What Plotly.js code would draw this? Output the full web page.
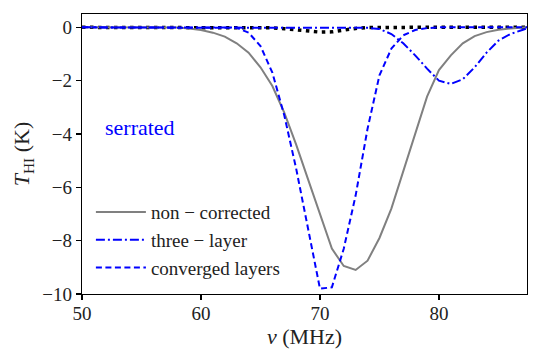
<!DOCTYPE html>
<html>
<head>
<meta charset="utf-8">
<script src="https://cdn.plot.ly/plotly-3.0.1.min.js"></script>
<style>
  html, body { margin: 0; padding: 0; background: #fff; }
  #chart { width: 540px; height: 360px; }
</style>
</head>
<body>
<div id="chart"></div>
<script>
// frequency grid (MHz)
const nu = [50, 51, 52, 53, 54, 55, 56, 57, 58, 59,
            60, 61, 62, 63, 64, 65, 66, 67, 68, 69,
            70, 71, 72, 73, 74, 75, 76, 77, 78, 79,
            80, 81, 82, 83, 84, 85, 86, 87, 87.4];

// brightness temperature (K)
const nonCorrected = [0, 0, 0, 0, 0, 0, 0, 0, -0.01, -0.04,
                      -0.1, -0.2, -0.35, -0.6, -0.95, -1.5, -2.2, -3.2, -4.4, -5.7,
                      -7.0, -8.3, -8.95, -9.1, -8.75, -7.9, -6.8, -5.4, -4.0, -2.6,
                      -1.6, -1.05, -0.6, -0.33, -0.18, -0.09, -0.04, -0.01, 0];

const threeLayer = [0, 0, 0, 0, 0, 0, 0, 0, 0, 0,
                    0, 0, 0, 0, 0, 0, 0, 0, 0, 0,
                    0, 0, 0, -0.01, -0.02, -0.06, -0.25, -0.6, -1.05, -1.55,
                    -2.0, -2.12, -1.95, -1.5, -0.95, -0.5, -0.25, -0.1, -0.04];

const convergedLayers = [0, 0, 0, 0, 0, 0, 0, 0, 0, 0,
                         0, 0, 0, -0.02, -0.2, -0.7, -1.7, -3.3, -5.3, -7.5,
                         -9.8, -9.75, -8.3, -6.3, -3.8, -1.8, -0.8, -0.3, -0.1, -0.03,
                         0, 0, 0, 0, 0, 0, 0, 0, 0];

const residual = [0, 0, 0, 0, 0, 0, 0, 0, 0, 0,
                  0, 0, 0, 0, 0, 0, -0.02, -0.05, -0.09, -0.15,
                  -0.18, -0.17, -0.1, -0.04, -0.01, 0, 0, 0, 0, 0,
                  0, 0, 0, 0, 0, 0, 0, 0, 0];

const serif = "'Liberation Serif', 'Times New Roman', serif";

const traces = [
  {
    x: nu, y: residual, mode: 'lines', showlegend: false,
    line: { color: 'black', width: 3.5, dash: '3.5px,4.5px' },
  },
  {
    x: nu, y: nonCorrected, mode: 'lines', name: 'non \u2212 corrected',
    line: { color: 'gray', width: 2 },
  },
  {
    x: nu, y: threeLayer, mode: 'lines', name: 'three \u2212 layer',
    line: { color: '#0000ff', width: 2, dash: '9px,3px,2px,3px' },
  },
  {
    x: nu, y: convergedLayers, mode: 'lines', name: 'converged layers',
    line: { color: '#0000ff', width: 2, dash: '6px,3.5px' },
  },
];

const axisCommon = {
  showgrid: false,
  zeroline: false,
  showline: true,
  mirror: true,
  linecolor: 'black',
  linewidth: 1.2,
  ticks: 'outside',
  ticklen: 5,
  tickwidth: 1.2,
  tickcolor: 'black',
  tickfont: { family: serif, size: 19, color: '#222' },
};

const layout = {
  width: 540,
  height: 360,
  margin: { t: 14, r: 13, b: 66, l: 82 },
  paper_bgcolor: 'white',
  plot_bgcolor: 'white',
  xaxis: Object.assign({}, axisCommon, {
    range: [50, 87.4],
    tickvals: [50, 60, 70, 80],
    ticklabelstandoff: -3,
    title: { text: '<i>\u03bd</i> (MHz)', font: { family: serif, size: 22, color: '#222' }, standoff: 2 },
  }),
  yaxis: Object.assign({}, axisCommon, {
    range: [-10, 0.5],
    tickvals: [-10, -8, -6, -4, -2, 0],
    title: { text: '<i>T</i><sub>HI</sub> (K)', font: { family: serif, size: 22, color: '#222' }, standoff: 6 },
  }),
  legend: {
    x: 0.02, y: 0.36, xanchor: 'left', yanchor: 'top',
    bgcolor: 'rgba(0,0,0,0)',
    font: { family: serif, size: 19, color: '#222' },
    tracegroupgap: 0,
    itemwidth: 50,
  },
  annotations: [{
    x: 51.8, y: -3.75, xref: 'x', yref: 'y', xanchor: 'left', yanchor: 'middle',
    text: 'serrated', showarrow: false,
    font: { family: serif, size: 22, color: '#0000ff' },
  }],
};

Plotly.newPlot('chart', traces, layout, { displayModeBar: false, staticPlot: true });
</script>
</body>
</html>
